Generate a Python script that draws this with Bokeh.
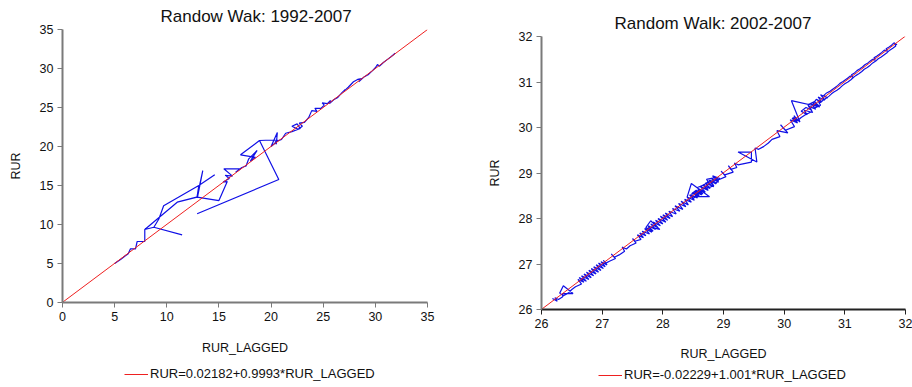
from bokeh.plotting import figure
from bokeh.layouts import row, column
from bokeh.models import Range1d, FixedTicker, Legend, LegendItem
from bokeh.embed import file_html
from bokeh.resources import INLINE

FONT = "Liberation Sans"
BLUE = "#1010e6"
RED = "#ee2020"

# ---------------- Panel 1: 1992-2007 ----------------
title_9207 = "Randow Wak: 1992-2007"
ticks_9207 = [0, 5, 10, 15, 20, 25, 30, 35]
range_9207 = [0, 35]
coef_9207 = [0.02182, 0.9993]   # intercept, slope
legend_9207 = "RUR=0.02182+0.9993*RUR_LAGGED"

rur_lagged_9207 = [
    5.0, 5.6, 6.0, 6.3, 6.52, 7.0, 7.16, 7.89, 7.89, 11.0, 12.9, 13.45, 13.2, 12.95,
    11.0, 7.89, 8.76, 11.47, 8.76, 9.24, 9.7, 13.07, 14.6, 13.07, 12.9, 15.0, 15.8,
    15.4, 16.0, 15.6, 16.3, 15.47, 17.07, 16.6, 17.2, 17.6, 17.86, 18.66, 18.0, 18.5,
    17.07, 18.89, 20.74, 12.91, 20.74, 18.89, 19.5, 20.7, 20.0, 20.6, 20.5, 20.4, 21.0,
    21.4, 22.0, 22.8, 22.5, 22.0, 22.6, 23.0, 22.7, 23.2, 23.6, 23.9, 24.4, 24.2, 24.8,
    25.1, 24.9, 25.4, 25.7, 25.6, 26.0, 26.4, 26.8, 27.1, 27.0, 27.4, 27.9, 28.3, 28.7,
    28.4, 28.9, 29.3, 29.7, 30.0, 30.2, 30.4, 30.8, 31.2, 31.5, 31.9,
]
rur_9207 = [
    5.0, 5.55, 5.95, 6.24, 6.88, 6.88, 7.82, 7.82, 9.36, 12.86, 13.5, 16.9, 15.2, 13.55,
    12.86, 9.36, 9.65, 8.68, 9.65, 10.7, 12.4, 15.0, 16.37, 15.0, 13.5, 13.07, 15.5,
    15.45, 15.9, 16.3, 16.2, 17.14, 17.14, 16.7, 17.3, 17.5, 18.42, 19.49, 18.1, 18.6,
    18.93, 20.77, 15.77, 11.37, 15.77, 20.77, 20.8, 20.8, 20.0, 21.8, 20.3, 20.6, 20.9,
    21.7, 21.9, 22.3, 22.9, 22.6, 22.2, 22.6, 23.0, 23.1, 23.7, 24.6, 24.5, 24.9, 24.9,
    25.3, 25.6, 25.5, 25.9, 25.5, 26.0, 26.3, 26.9, 27.3, 27.1, 27.6, 28.3, 28.6, 28.7,
    28.3, 28.9, 29.2, 29.7, 30.1, 30.5, 30.3, 30.8, 31.2, 31.5, 31.95,
]

# ---------------- Panel 2: 2002-2007 ----------------
title_0207 = "Random Walk: 2002-2007"
ticks_0207 = [26, 27, 28, 29, 30, 31, 32]
range_0207 = [26, 32]
coef_0207 = [-0.02229, 1.001]
legend_0207 = "RUR=-0.02229+1.001*RUR_LAGGED"

# RUR observations in time order; the plotted pairs are (previous value, value)
rur_obs_0207 = [
    30.14, 30.18, 30.13, 30.21, 30.16, 30.26, 30.12, 30.59, 30.45, 30.52, 30.40, 30.47,
    30.33, 30.38, 30.28, 30.36, 30.44, 30.39, 30.50, 30.57, 30.48, 30.53, 30.62, 30.56,
    30.67, 30.60, 30.72, 30.65, 30.70, 30.76, 30.80, 30.84, 30.88, 30.92, 30.97, 31.01,
    31.05, 31.09, 31.13, 31.11, 31.16, 31.20, 31.25, 31.29, 31.33, 31.38, 31.42, 31.46,
    31.50, 31.48, 31.53, 31.57, 31.61, 31.65, 31.70, 31.68, 31.73, 31.77, 31.81, 31.86,
    31.82, 31.84, 31.79, 31.74, 31.70, 31.65, 31.60, 31.55, 31.51, 31.46, 31.42, 31.37,
    31.32, 31.28, 31.23, 31.18, 31.14, 31.10, 31.05, 31.00, 30.96, 30.92, 30.87, 30.82,
    30.78, 30.74, 30.69, 30.64, 30.60, 30.55, 30.60, 30.49, 30.42, 30.46, 30.35, 30.28,
    30.22, 30.15, 30.22, 30.10, 30.17, 30.02, 29.94, 30.06, 29.88, 29.93, 29.80, 29.74,
    29.66, 29.58, 29.52, 29.55, 29.24, 29.46, 29.46, 29.24, 29.18, 29.22, 29.12, 29.08,
    29.16, 29.02, 28.96, 29.04, 28.92,
    28.85, 28.92, 28.80, 28.88, 28.76, 28.84, 28.70, 28.78, 28.66, 28.74, 28.62, 28.70,
    28.58, 28.64, 28.52, 28.60, 28.48, 28.56, 28.50, 28.44, 28.52, 28.40, 28.47, 28.77,
    28.48, 28.48, 28.55, 28.62, 28.57, 28.68, 28.74, 28.80, 28.72, 28.86, 28.90, 28.82,
    28.94, 28.88, 28.78, 28.84, 28.72, 28.66, 28.75, 28.62, 28.70, 28.58, 28.66, 28.54,
    28.60, 28.50, 28.57, 28.45, 28.52, 28.40, 28.47, 28.36, 28.42, 28.30, 28.38, 28.26,
    28.33, 28.20, 28.28, 28.16, 28.22, 28.10,
    28.16, 28.04, 28.12, 28.00, 28.08, 27.96, 28.05, 27.92, 28.00, 27.88, 27.96, 27.84,
    27.92, 27.80, 27.88, 27.76, 27.84, 27.72, 27.80, 27.95, 27.76, 27.82, 27.70, 27.78,
    27.66, 27.72, 27.62, 27.68, 27.58, 27.64, 27.54, 27.50, 27.56, 27.46, 27.40, 27.33,
    27.37, 27.28, 27.20, 27.15, 27.22, 27.12,
    27.06, 27.02, 27.08, 26.98, 27.05, 26.94, 27.02, 26.90, 26.98, 26.86, 26.94, 26.82,
    26.90, 26.78, 26.86, 26.74, 26.82, 26.70, 26.78, 26.66, 26.74, 26.62, 26.70, 26.60,
    26.66, 26.56, 26.50, 26.44, 26.36, 26.30, 26.36, 26.52, 26.35, 26.35, 26.28, 26.22,
    26.26, 26.18, 26.24,
]
rur_lagged_0207 = rur_obs_0207[:-1]
rur_0207 = rur_obs_0207[1:]


def style_axis(ax, color, width, label_standoff):
    ax.axis_line_color = color
    ax.axis_line_width = width
    ax.major_tick_line_color = color
    ax.major_tick_line_width = 1
    ax.major_tick_out = 5
    ax.major_tick_in = 0
    ax.minor_tick_line_color = None
    ax.major_label_text_font = FONT
    ax.major_label_text_font_size = "12.5px"
    ax.major_label_text_color = "#111111"
    ax.major_label_standoff = 4
    ax.axis_label_text_font = FONT
    ax.axis_label_text_font_size = "12.5px"
    ax.axis_label_text_font_style = "normal"
    ax.axis_label_text_color = "#111111"
    ax.axis_label_standoff = label_standoff


def panel(frame_w, borders, rng, ticks, xs, ys, coef, title, title_offset,
          xaxis_color, xlabel_standoff):
    bl, br, bt, bb = borders
    p = figure(frame_width=frame_w, frame_height=273,
               x_range=Range1d(rng[0], rng[1]), y_range=Range1d(rng[0], rng[1]),
               output_backend="svg", toolbar_location=None,
               min_border_left=bl, min_border_right=br,
               min_border_top=bt, min_border_bottom=bb)
    p.outline_line_color = None
    p.grid.visible = False
    p.title.text = title
    p.title.text_font = FONT
    p.title.text_font_size = "17px"
    p.title.text_font_style = "normal"
    p.title.text_color = "#111111"
    p.title.align = "left"
    p.title.offset = title_offset
    p.title.vertical_align = "bottom"
    p.title.standoff = 8
    p.xaxis.ticker = FixedTicker(ticks=ticks)
    p.yaxis.ticker = FixedTicker(ticks=ticks)
    p.xaxis.axis_label = "RUR_LAGGED"
    p.yaxis.axis_label = "RUR"
    style_axis(p.yaxis[0], "#7a7a7a", 2, 14)
    style_axis(p.xaxis[0], xaxis_color, 2, xlabel_standoff)

    p.line(xs, ys, line_color=BLUE, line_width=1.2)
    fx = [rng[0], rng[1]]
    fy = [coef[0] + coef[1] * v for v in fx]
    p.line(fx, fy, line_color=RED, line_width=1)
    return p


def legend_strip(width, height, rng, coef, leg_text, loc):
    # a strip holding only the legend; its ranges sit beyond the data so the
    # fitted line itself stays out of view and only its legend entry shows
    q = figure(width=width, height=height,
               x_range=Range1d(rng[0], rng[1]), y_range=Range1d(rng[1] + 10, rng[1] + 20),
               x_axis_type=None, y_axis_type=None, output_backend="svg",
               toolbar_location=None, min_border=0)
    q.outline_line_color = None
    q.grid.visible = False
    fx = [rng[0], rng[1]]
    fy = [coef[0] + coef[1] * v for v in fx]
    r = q.line(fx, fy, line_color=RED, line_width=1)
    leg = Legend(items=[LegendItem(label=leg_text, renderers=[r])],
                 location=loc, orientation="horizontal",
                 glyph_width=24, glyph_height=14, label_standoff=2,
                 padding=0, margin=0,
                 border_line_color=None, background_fill_alpha=0,
                 label_text_font=FONT, label_text_font_size="13px",
                 label_text_color="#111111")
    q.add_layout(leg)
    return q


p1 = panel(365, (62, 23, 29, 56), range_9207, ticks_9207, rur_lagged_9207, rur_9207,
           coef_9207, title_9207, 98, "#7a7a7a", 17)
l1 = legend_strip(450, 23, range_9207, coef_9207, legend_9207, (62, 0))
p2 = panel(364, (91, 7, 36, 55), range_0207, ticks_0207, rur_lagged_0207, rur_0207,
           coef_0207, title_0207, 73, "#222222", 16)
l2 = legend_strip(462, 18, range_0207, coef_0207, legend_0207, (57, 0))

layout = row(column(p1, l1), column(p2, l2))
open("out.html", "w").write(file_html(layout, INLINE))
